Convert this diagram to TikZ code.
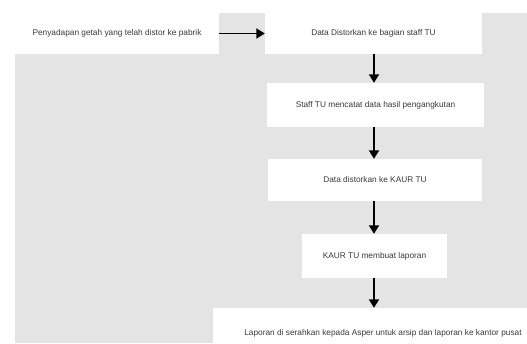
\documentclass[tikz,border=0pt]{standalone}
\usepackage{fontspec}
\setmainfont{Liberation Sans}
\usetikzlibrary{arrows.meta,calc}
\definecolor{bggray}{HTML}{E4E4E4}
\definecolor{txt}{HTML}{3A3A3A}
\tikzset{
  box/.style={fill=white, draw=none, inner sep=0pt, text=txt, font=\fontsize{8.3}{10}\selectfont, anchor=center},
  flow/.style={line width=1.8pt, -{Triangle[width=10pt,length=8.5pt]}}
}
\begin{document}
\begin{tikzpicture}[x=1pt,y=-1pt]
\clip (0,0) rectangle (527,343);
\fill[white] (0,0) rectangle (527,343);
\fill[bggray] (15,13) rectangle (527,343);
\coordinate (ax) at (374,0);
\node[box, minimum width=204pt, minimum height=41pt] (b1) at (117,33.5) {Penyadapan getah yang telah distor ke pabrik};
\node[box, minimum width=217pt, minimum height=41pt] (b2) at (373.5,33.5) {Data Distorkan ke bagian staff TU};
\node[box, minimum width=217pt, minimum height=44pt] (b3) at (375.5,105) {Staff TU mencatat data hasil pengangkutan};
\node[box, minimum width=214pt, minimum height=42pt] (b4) at (375,180) {Data distorkan ke KAUR TU};
\node[box, minimum width=145pt, minimum height=44pt] (b5) at (374.5,256) {KAUR TU membuat laporan};
\node[box, minimum width=340pt, minimum height=50pt] (b6) at (383,333) {Laporan di serahkan kepada Asper untuk arsip dan laporan ke kantor pusat};
\draw[flow] (b1.east) -- (b2.west);
\draw[flow] (b2.south -| ax) -- (b3.north -| ax);
\draw[flow] (b3.south -| ax) -- (b4.north -| ax);
\draw[flow] (b4.south -| ax) -- (b5.north -| ax);
\draw[flow] (b5.south -| ax) -- (b6.north -| ax);
\end{tikzpicture}
\end{document}
